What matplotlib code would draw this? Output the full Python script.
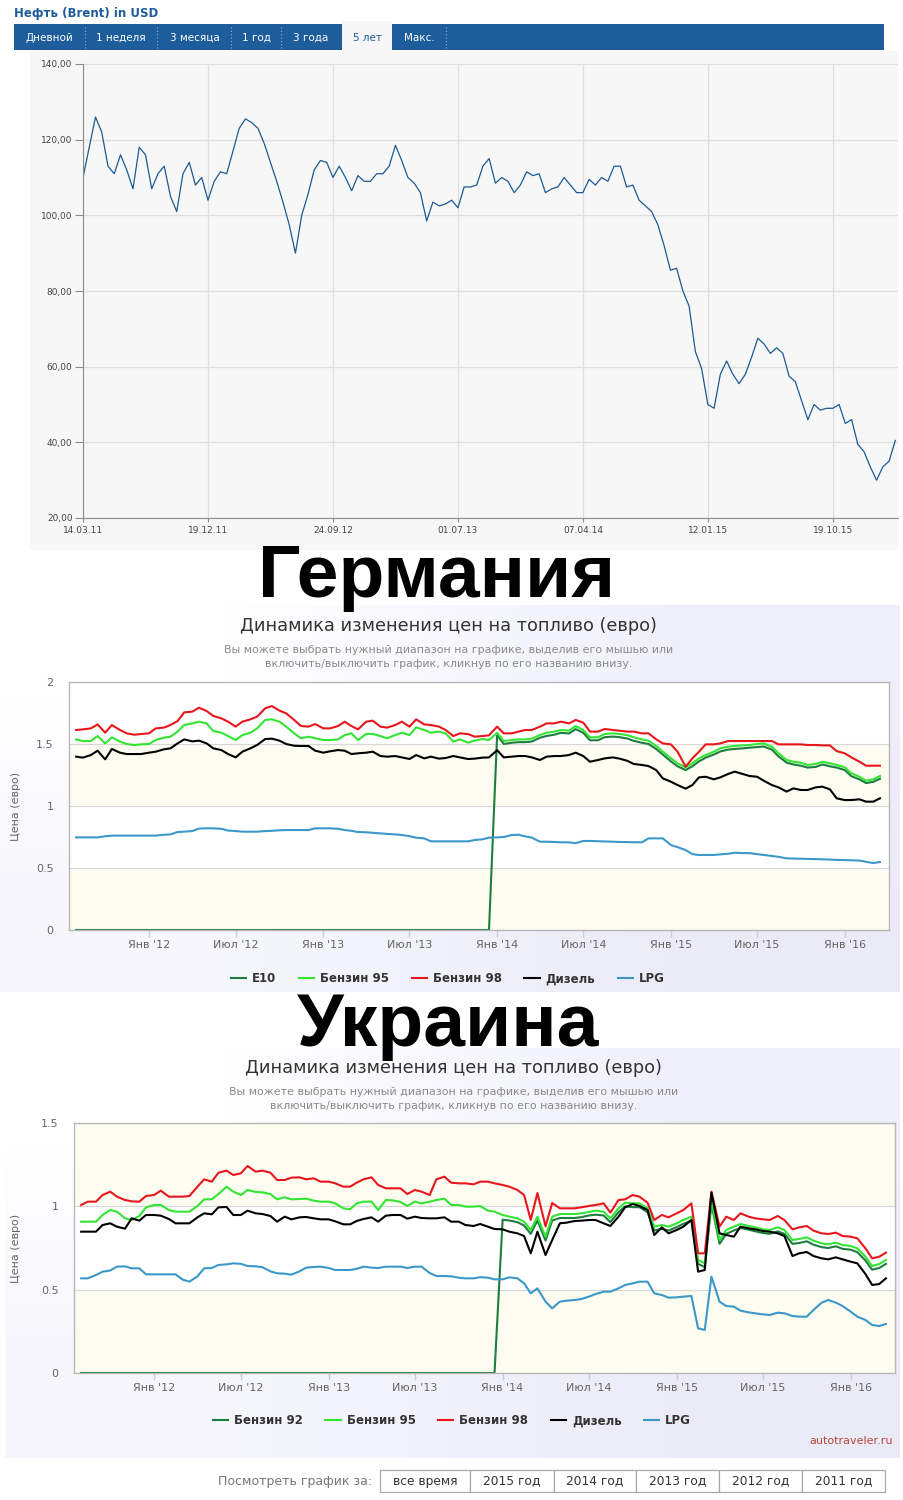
import numpy as np
import pandas as pd
import matplotlib
matplotlib.use('Agg')
import matplotlib.pyplot as plt
import matplotlib.dates as mdates
from matplotlib.patches import Rectangle

plt.rcParams['font.family'] = ['DejaVu Sans']

W, H = 904, 1500

# ---------------- Brent data (every 14 days from 14.03.11) ----------------
brent_start = '2011-03-14'
brent_step_days = 14
brent_values = [
    110, 118, 126, 122, 113, 111, 116, 112, 107, 118,
    116, 107, 111, 113, 105, 101, 111, 114, 108, 110,
    104, 109, 111.5, 111, 117, 123, 125.5, 124.5, 123, 119,
    114, 109, 103.5, 97.5, 90, 100, 105.5, 112, 114.5, 114,
    110, 113, 110, 106.5, 110.5, 109, 109, 111, 111, 113,
    118.5, 114.5, 110, 108.5, 106, 98.5, 103.5, 102.5, 103, 104,
    102, 107.5, 107.5, 108, 113, 115, 108.5, 110, 109, 106,
    108, 111.5, 110.5, 111, 106, 107, 107.5, 110, 108, 106,
    106, 109.5, 108, 110, 109, 113, 113, 107.5, 108, 104,
    102.5, 101, 97.5, 92, 85.5, 86, 80, 76, 64, 59.5,
    50, 49, 58, 61.5, 58, 55.5, 58, 62.5, 67.5, 66,
    63.5, 65, 63.5, 57.5, 56, 51, 46, 50, 48.5, 49,
    49, 50, 45, 46, 39.5, 37.5, 33.5, 30, 33.5, 35, 40.5,
]
brent_xticks = ['2011-03-14', '2011-12-19', '2012-09-24', '2013-07-01',
                '2014-04-07', '2015-01-12', '2015-10-19']
brent_yticks = [20, 40, 60, 80, 100, 120, 140]
brent_tabs = ['Дневной', '1 неделя', '3 месяца', '1 год', '3 года', '5 лет', 'Макс.']

# ---------------- Fuel data (semi-monthly: 1st and 15th, from 2011-08-01) ----------------
fuel_start = '2011-08-01'
fuel_xticks = ['2012-01-01', '2012-07-01', '2013-01-01', '2013-07-01', '2014-01-01',
               '2014-07-01', '2015-01-01', '2015-07-01', '2016-01-01']
fuel_xlabels = ["Янв '12", "Июл '12", "Янв '13", "Июл '13", "Янв '14",
                "Июл '14", "Янв '15", "Июл '15", "Янв '16"]

de_labels = ['E10', 'Бензин 95', 'Бензин 98', 'Дизель', 'LPG']
ua_labels = ['Бензин 92', 'Бензин 95', 'Бензин 98', 'Дизель', 'LPG']

de_e10 = [0.0] * 58 + [
    1.57, 1.50, 1.51, 1.515, 1.515, 1.52, 1.55, 1.565, 1.575, 1.59,
    1.585, 1.62, 1.59, 1.53, 1.53, 1.555, 1.56, 1.555, 1.545, 1.525,
    1.51, 1.5, 1.46, 1.415, 1.36, 1.32, 1.29, 1.32, 1.36, 1.39,
    1.415, 1.44, 1.455, 1.46, 1.465, 1.47, 1.475, 1.48, 1.455, 1.4,
    1.35, 1.335, 1.325, 1.31, 1.315, 1.335, 1.32, 1.31, 1.29, 1.24,
    1.215, 1.185, 1.195, 1.22]
de_95 = [
    1.537, 1.524, 1.524, 1.564, 1.505, 1.554, 1.519, 1.5, 1.492, 1.497,
    1.5, 1.532, 1.551, 1.559, 1.6, 1.653, 1.666, 1.68, 1.666, 1.605,
    1.591, 1.564, 1.532, 1.572, 1.591, 1.626, 1.694, 1.699, 1.68, 1.64,
    1.586, 1.546, 1.559, 1.546, 1.532, 1.532, 1.537, 1.572, 1.586, 1.532,
    1.581, 1.581, 1.564, 1.546, 1.572, 1.591, 1.572, 1.634, 1.613, 1.591,
    1.6, 1.586, 1.519, 1.537, 1.511, 1.527, 1.54, 1.532, 1.59, 1.524,
    1.532, 1.537, 1.537, 1.543, 1.572, 1.591, 1.6, 1.613, 1.608, 1.645,
    1.613, 1.554, 1.554, 1.581, 1.586, 1.581, 1.572, 1.554, 1.537, 1.527,
    1.484, 1.438, 1.384, 1.344, 1.312, 1.344, 1.384, 1.411, 1.438, 1.465,
    1.478, 1.484, 1.489, 1.492, 1.5, 1.505, 1.478, 1.425, 1.371, 1.357,
    1.349, 1.331, 1.339, 1.357, 1.344, 1.331, 1.312, 1.263, 1.236, 1.204, 1.215, 1.242]
de_98 = [
    1.613, 1.618, 1.626, 1.658, 1.591, 1.653, 1.613, 1.586, 1.575, 1.58,
    1.586, 1.626, 1.632, 1.653, 1.685, 1.755, 1.761, 1.793, 1.766, 1.726,
    1.707, 1.68, 1.64, 1.68, 1.699, 1.72, 1.788, 1.806, 1.769, 1.747,
    1.694, 1.645, 1.64, 1.661, 1.626, 1.626, 1.645, 1.68, 1.645, 1.618,
    1.68, 1.688, 1.64, 1.632, 1.653, 1.68, 1.64, 1.699, 1.658, 1.653,
    1.64, 1.613, 1.564, 1.586, 1.58, 1.559, 1.564, 1.57, 1.64, 1.586,
    1.586, 1.6, 1.613, 1.613, 1.64, 1.666, 1.666, 1.68, 1.666, 1.694,
    1.672, 1.6, 1.6, 1.621, 1.613, 1.607, 1.6, 1.6, 1.586, 1.586,
    1.538, 1.505, 1.497, 1.438, 1.317, 1.384, 1.438, 1.497, 1.497, 1.505,
    1.524, 1.524, 1.524, 1.524, 1.524, 1.524, 1.524, 1.497, 1.497, 1.497,
    1.497, 1.492, 1.492, 1.489, 1.489, 1.443, 1.425, 1.392, 1.357, 1.325, 1.325, 1.325]
de_diesel = [
    1.398, 1.39, 1.411, 1.446, 1.376, 1.46, 1.43, 1.419, 1.419, 1.419,
    1.43, 1.438, 1.457, 1.465, 1.505, 1.537, 1.521, 1.527, 1.505, 1.465,
    1.451, 1.419, 1.392, 1.438, 1.465, 1.492, 1.54, 1.543, 1.527, 1.5,
    1.486, 1.484, 1.484, 1.446, 1.43, 1.441, 1.451, 1.446, 1.419, 1.425,
    1.43, 1.438, 1.403, 1.398, 1.403, 1.392, 1.379, 1.411, 1.384, 1.398,
    1.382, 1.387, 1.403, 1.392, 1.379, 1.382, 1.39, 1.392, 1.45, 1.392,
    1.398, 1.403, 1.403, 1.392, 1.371, 1.398, 1.403, 1.403, 1.411, 1.43,
    1.403, 1.357, 1.371, 1.384, 1.392, 1.382, 1.365, 1.339, 1.331, 1.322,
    1.29, 1.223, 1.196, 1.169, 1.14, 1.169, 1.231, 1.236, 1.215, 1.231,
    1.258, 1.277, 1.258, 1.242, 1.236, 1.204, 1.169, 1.15, 1.116, 1.142,
    1.129, 1.129, 1.15, 1.156, 1.134, 1.062, 1.048, 1.048, 1.054, 1.035, 1.035, 1.062]
de_lpg = [
    0.747, 0.747, 0.747, 0.747, 0.756, 0.761, 0.761, 0.761, 0.761, 0.761,
    0.761, 0.761, 0.768, 0.771, 0.79, 0.793, 0.798, 0.818, 0.82, 0.82,
    0.816, 0.802, 0.798, 0.793, 0.793, 0.793, 0.798, 0.8, 0.804, 0.806,
    0.806, 0.806, 0.806, 0.82, 0.82, 0.82, 0.816, 0.806, 0.8, 0.79,
    0.788, 0.784, 0.779, 0.775, 0.771, 0.766, 0.757, 0.744, 0.739, 0.715,
    0.715, 0.715, 0.715, 0.715, 0.715, 0.726, 0.731, 0.745, 0.747, 0.75,
    0.766, 0.768, 0.755, 0.745, 0.712, 0.712, 0.71, 0.707, 0.707, 0.7,
    0.718, 0.718, 0.716, 0.714, 0.712, 0.71, 0.709, 0.708, 0.707, 0.739,
    0.739, 0.739, 0.685, 0.668, 0.645, 0.612, 0.605, 0.605, 0.605, 0.61,
    0.615, 0.623, 0.62, 0.62, 0.612, 0.605, 0.597, 0.59, 0.578, 0.576,
    0.575, 0.573, 0.572, 0.57, 0.568, 0.565, 0.564, 0.562, 0.56, 0.55, 0.54, 0.548]

ua_92 = [0.0] * 58 + [
    0.92, 0.915, 0.905, 0.885, 0.835, 0.915, 0.795, 0.915, 0.93, 0.93,
    0.93, 0.935, 0.945, 0.95, 0.945, 0.905, 0.965, 1.0, 0.995, 0.995,
    0.965, 0.855, 0.865, 0.855, 0.875, 0.895, 0.915, 0.655, 0.635, 1.015,
    0.775, 0.835, 0.855, 0.87, 0.86, 0.85, 0.84, 0.835, 0.85, 0.835,
    0.775, 0.78, 0.79, 0.77, 0.755, 0.75, 0.76, 0.745, 0.74, 0.725,
    0.675, 0.62, 0.63, 0.655]
ua_95 = [
    0.908, 0.908, 0.908, 0.948, 0.978, 0.968, 0.928, 0.918, 0.942, 0.994,
    1.008, 1.008, 0.978, 0.968, 0.968, 0.968, 1.002, 1.042, 1.042, 1.074,
    1.118, 1.088, 1.068, 1.098, 1.086, 1.084, 1.074, 1.042, 1.054, 1.042,
    1.044, 1.046, 1.034, 1.028, 1.028, 1.018, 0.988, 0.982, 1.018, 1.028,
    1.028, 0.978, 1.038, 1.036, 1.026, 1.002, 1.028, 1.018, 1.028, 1.038,
    1.046, 1.008, 1.008, 0.998, 0.998, 1.002, 0.974, 0.968, 0.948, 0.938,
    0.928, 0.908, 0.858, 0.938, 0.818, 0.938, 0.954, 0.954, 0.954, 0.958,
    0.966, 0.974, 0.968, 0.928, 0.988, 1.022, 1.018, 1.018, 0.988, 0.878,
    0.888, 0.878, 0.898, 0.918, 0.938, 0.678, 0.658, 1.038, 0.798, 0.858,
    0.878, 0.894, 0.882, 0.874, 0.862, 0.858, 0.874, 0.858, 0.798, 0.804,
    0.814, 0.794, 0.778, 0.772, 0.782, 0.768, 0.762, 0.748, 0.698, 0.642, 0.654, 0.678]
ua_98 = [
    1.008, 1.028, 1.028, 1.068, 1.088, 1.058, 1.038, 1.03, 1.028, 1.062,
    1.068, 1.094, 1.058, 1.058, 1.058, 1.062, 1.118, 1.162, 1.148, 1.202,
    1.214, 1.188, 1.198, 1.242, 1.208, 1.214, 1.202, 1.158, 1.158, 1.172,
    1.174, 1.162, 1.168, 1.148, 1.148, 1.138, 1.118, 1.118, 1.142, 1.162,
    1.174, 1.128, 1.108, 1.108, 1.108, 1.074, 1.098, 1.088, 1.068, 1.162,
    1.178, 1.142, 1.138, 1.138, 1.132, 1.148, 1.148, 1.138, 1.128, 1.118,
    1.098, 1.068, 0.918, 1.08, 0.88, 1.02, 0.988, 0.988, 0.988, 0.994,
    1.002, 1.008, 1.018, 0.962, 1.038, 1.042, 1.068, 1.058, 1.022, 0.918,
    0.948, 0.934, 0.958, 0.978, 1.018, 0.718, 0.718, 1.088, 0.878, 0.938,
    0.918, 0.958, 0.938, 0.928, 0.922, 0.918, 0.942, 0.918, 0.862, 0.874,
    0.882, 0.854, 0.838, 0.834, 0.842, 0.822, 0.818, 0.808, 0.748, 0.688, 0.698, 0.722]
ua_diesel = [
    0.848, 0.848, 0.848, 0.888, 0.898, 0.878, 0.866, 0.928, 0.914, 0.948,
    0.948, 0.944, 0.924, 0.898, 0.898, 0.898, 0.934, 0.958, 0.952, 0.994,
    0.996, 0.948, 0.948, 0.974, 0.958, 0.954, 0.942, 0.908, 0.938, 0.922,
    0.934, 0.936, 0.928, 0.922, 0.922, 0.91, 0.892, 0.892, 0.912, 0.924,
    0.934, 0.908, 0.944, 0.948, 0.948, 0.926, 0.938, 0.93, 0.928, 0.928,
    0.934, 0.908, 0.908, 0.888, 0.882, 0.894, 0.878, 0.864, 0.862, 0.848,
    0.838, 0.822, 0.718, 0.848, 0.708, 0.798, 0.898, 0.902, 0.912, 0.914,
    0.918, 0.918, 0.898, 0.882, 0.938, 0.994, 1.014, 1.002, 0.978, 0.828,
    0.874, 0.838, 0.858, 0.878, 0.918, 0.608, 0.618, 1.082, 0.838, 0.828,
    0.818, 0.878, 0.868, 0.862, 0.852, 0.848, 0.838, 0.822, 0.702, 0.718,
    0.726, 0.702, 0.688, 0.682, 0.694, 0.682, 0.668, 0.658, 0.594, 0.528, 0.534, 0.568]
ua_lpg = [
    0.568, 0.568, 0.588, 0.608, 0.615, 0.638, 0.64, 0.628, 0.628, 0.592,
    0.592, 0.592, 0.592, 0.592, 0.56, 0.548, 0.58, 0.628, 0.63, 0.648,
    0.652, 0.658, 0.655, 0.642, 0.64, 0.635, 0.61, 0.598, 0.596, 0.59,
    0.61, 0.632, 0.636, 0.638, 0.63, 0.618, 0.618, 0.618, 0.625, 0.638,
    0.632, 0.63, 0.638, 0.638, 0.638, 0.63, 0.638, 0.638, 0.6, 0.582,
    0.582, 0.58, 0.572, 0.568, 0.568, 0.575, 0.572, 0.562, 0.562, 0.574,
    0.568, 0.538, 0.478, 0.508, 0.428, 0.388, 0.428, 0.434, 0.438, 0.444,
    0.458, 0.474, 0.488, 0.488, 0.508, 0.528, 0.538, 0.548, 0.548, 0.478,
    0.468, 0.452, 0.454, 0.458, 0.462, 0.268, 0.258, 0.578, 0.428, 0.402,
    0.398, 0.374, 0.364, 0.358, 0.352, 0.348, 0.362, 0.358, 0.342, 0.338,
    0.338, 0.378, 0.422, 0.438, 0.422, 0.402, 0.368, 0.338, 0.318, 0.288, 0.282, 0.294]

period_buttons = ['все время', '2015 год', '2014 год', '2013 год', '2012 год', '2011 год']

series_colors = ['#1d7d3f', '#33e533', '#e8161c', '#000000', '#3b98c9']

# ---------------- figure ----------------
fig = plt.figure(figsize=(W / 100, H / 100), dpi=100)
bg = fig.add_axes([0, 0, 1, 1])
bg.axis('off')


def fr(x0, y0, x1, y1):
    return [x0 / W, 1 - y1 / H, (x1 - x0) / W, (y1 - y0) / H]


# ---- Brent header ----
bg.text(14, 13, 'Нефть (Brent) in USD', fontsize=8.5, fontweight='bold',
        color='#1e5d9b', va='center', ha='left')
bg.add_patch(Rectangle((14, 24), 870, 26, color='#1e5d9b', lw=0, zorder=1))
bg.add_patch(Rectangle((30, 51), 868, 499, color='#f7f7f7', lw=0, zorder=1))
bg.add_patch(Rectangle((342, 21), 50, 30, color='#f7f7f7', lw=0, zorder=2))
tab_centers = [49, 121, 194.5, 256.5, 311, 367.5, 419.5]
tab_seps = [85, 157, 231, 281, 446]
for name, cx in zip(brent_tabs, tab_centers):
    sel = (name == '5 лет')
    bg.text(cx, 38, name, fontsize=7.5, color='#1e5d9b' if sel else 'white',
            ha='center', va='center', zorder=3)
for sx in tab_seps:
    bg.plot([sx, sx], [27, 48], color='#8fb0d3', lw=0.8, ls=(0, (1, 2)), zorder=3)

# ---- Brent chart ----
axb = fig.add_axes(fr(83, 64, 898, 518))
axb.set_facecolor('none')
b_start = np.datetime64(brent_start)
b_dates = b_start + np.arange(len(brent_values)) * np.timedelta64(brent_step_days, 'D')
axb.plot(b_dates, brent_values, color='#1d5a94', lw=0.9)
axb.set_xlim(b_start, b_start + np.timedelta64(1826, 'D'))
axb.set_ylim(20, 140)
axb.set_yticks(brent_yticks)
axb.set_yticklabels([f'{v:.2f}'.replace('.', ',') for v in brent_yticks])
axb.set_xticks(np.array(brent_xticks, dtype='datetime64[D]'))
axb.xaxis.set_major_formatter(mdates.DateFormatter('%d.%m.%y'))
axb.grid(True, color='#dedede', lw=0.9)
axb.set_axisbelow(True)
for s in ['top', 'right']:
    axb.spines[s].set_visible(False)
for s in ['left', 'bottom']:
    axb.spines[s].set_color('#8c8c8c')
axb.tick_params(axis='y', length=6, color='#8c8c8c', labelsize=6.5,
                labelcolor='#444444', pad=1.5)
axb.tick_params(axis='x', length=3, color='#8c8c8c', labelsize=6.5,
                labelcolor='#444444', pad=3)

# ---- panel backgrounds ----
grad = np.array([[[1.0, 1.0, 1.0], [0.94, 0.94, 0.985]],
                 [[0.965, 0.965, 0.99], [0.925, 0.925, 0.975]]])
bg.imshow(grad, extent=(0, 900, 992, 605), interpolation='bilinear', aspect='auto', zorder=0)
bg.imshow(grad, extent=(5, 900, 1458, 1048), interpolation='bilinear', aspect='auto', zorder=0)
bg.set_xlim(0, W)
bg.set_ylim(H, 0)

# ---- big country labels ----
bg.text(437, 597, 'Германия', fontsize=54, fontweight='bold', family='Liberation Sans',
        color='black', ha='center', va='baseline', zorder=10)
bg.text(448, 1046, 'Украина', fontsize=54, fontweight='bold', family='Liberation Sans',
        color='black', ha='center', va='baseline', zorder=10)

title = 'Динамика изменения цен на топливо (евро)'
sub1 = 'Вы можете выбрать нужный диапазон на графике, выделив его мышью или'
sub2 = 'включить/выключить график, кликнув по его названию внизу.'
for cx, ty in [(449, 626), (454, 1068)]:
    bg.text(cx, ty, title, fontsize=12.8, color='#333333', ha='center', va='center', zorder=5)
    bg.text(cx, ty + 24, sub1, fontsize=7.9, color='#8a8a8a', ha='center', va='center', zorder=5)
    bg.text(cx, ty + 38, sub2, fontsize=7.9, color='#8a8a8a', ha='center', va='center', zorder=5)

f_dates = pd.date_range(fuel_start, periods=len(de_95), freq='SMS').values


def fuel_axes(rect_px, ymax, ystep, series, labels, legend_cx, legend_y):
    ax = fig.add_axes(fr(*rect_px))
    ax.set_facecolor('white')
    yt = np.arange(0, ymax + 1e-9, ystep)
    for i in range(len(yt) - 1):
        if i % 2 == 0:
            ax.axhspan(yt[i], yt[i + 1], color='#fcfcf1', lw=0, zorder=0)
    for v, lab, col in zip(series, labels, series_colors):
        ax.plot(f_dates, v, color=col, lw=1.5, label=lab, solid_joinstyle='round', zorder=2)
    ax.set_ylim(0, ymax)
    ax.set_xlim(np.datetime64('2011-07-17'), np.datetime64('2016-04-03'))
    ax.set_yticks(yt)
    ax.set_yticklabels([f'{t:g}' for t in yt])
    ax.yaxis.grid(True, color='#d6d6d6', lw=0.8, zorder=1)
    ax.set_axisbelow(True)
    ax.set_xticks(np.array(fuel_xticks, dtype='datetime64[D]'))
    ax.set_xticklabels(fuel_xlabels)
    for s in ax.spines.values():
        s.set_color('#b8b8b8')
        s.set_linewidth(1.0)
    ax.tick_params(axis='y', length=0, labelsize=8, labelcolor='#666666', pad=11)
    ax.tick_params(axis='x', length=5, width=1, color='#c0d0e0', labelsize=8,
                   labelcolor='#666666', pad=2.5)
    ax.set_ylabel('Цена (евро)', fontsize=8, color='#666666')
    ax.yaxis.set_label_coords(-(rect_px[0] - 21) / (rect_px[2] - rect_px[0]), 0.5)
    ax.legend(loc='center', bbox_to_anchor=(legend_cx / W, 1 - legend_y / H),
              bbox_transform=fig.transFigure, ncol=5, frameon=False,
              prop={'weight': 'bold', 'size': 8.5}, labelcolor='#333333',
              handlelength=1.3, handletextpad=0.5, columnspacing=1.9)
    return ax


axg = fuel_axes((69, 682, 889, 930), 2.0, 0.5,
                [de_e10, de_95, de_98, de_diesel, de_lpg], de_labels, 448, 979)
axu = fuel_axes((74, 1123, 895, 1373), 1.5, 0.5,
                [ua_92, ua_95, ua_98, ua_diesel, ua_lpg], ua_labels, 452, 1421)

bg.text(893, 1441, 'autotraveler.ru', fontsize=8, color='#b8473a', ha='right', va='center', zorder=5)

# ---- bottom period buttons ----
bg.text(372, 1481, 'Посмотреть график за:', fontsize=9, color='#777777',
        ha='right', va='center')
edges = [380, 470, 554, 636, 719, 802, 885]
for i, lab in enumerate(period_buttons):
    x0, x1 = edges[i], edges[i + 1]
    bg.add_patch(Rectangle((x0, 1470), x1 - x0, 22, facecolor='white',
                           edgecolor='#aaaaaa', lw=0.9, zorder=2))
    bg.text((x0 + x1) / 2, 1481, lab, fontsize=8.8, color='#333333',
            ha='center', va='center', zorder=3)

fig.savefig('out.png', dpi=100)
